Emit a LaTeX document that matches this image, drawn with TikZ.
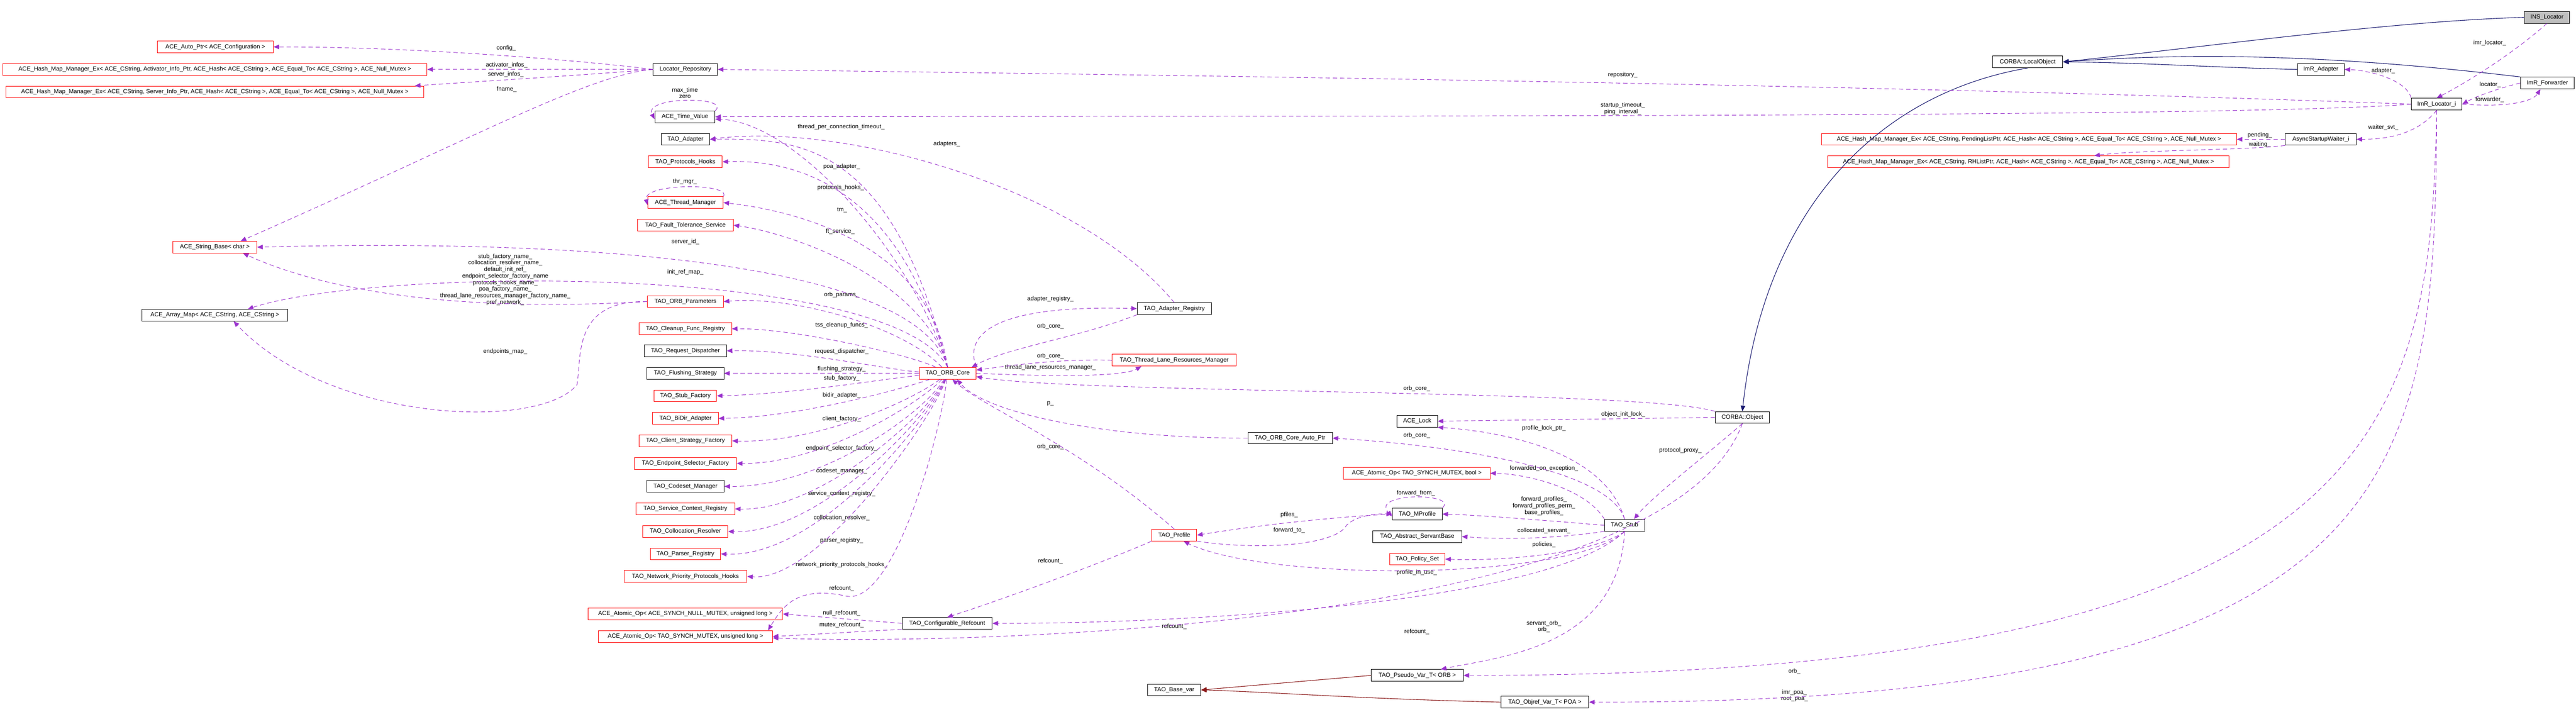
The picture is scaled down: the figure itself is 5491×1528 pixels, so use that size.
\documentclass[tikz,border=0pt]{standalone}
\usepackage{fontspec}
\setmainfont{Liberation Sans}
\usetikzlibrary{arrows.meta}
\definecolor{dep}{HTML}{9A32CD}
\definecolor{inh}{HTML}{191970}
\definecolor{tinh}{HTML}{8B1A1A}
\tikzset{
  bb/.style={draw=black, rectangle, minimum height=0.25cm, inner sep=0pt, font=\fontsize{3.6}{4.3}\selectfont, line width=0.3pt},
  rb/.style={bb, draw=red},
  gb/.style={bb, fill=black!25},
  lbl/.style={font=\fontsize{3.6}{3.97}\selectfont, inner sep=0pt, align=center},
  dp/.style={draw=dep, line width=0.3pt, dash pattern=on 2.6pt off 1.8pt, -{Triangle[length=3.4pt,width=2.8pt,fill=dep]}},
  ih/.style={draw=inh, line width=0.35pt, -{Triangle[length=3.4pt,width=2.8pt,fill=inh]}},
  th/.style={draw=tinh, line width=0.35pt, -{Triangle[length=3.4pt,width=2.8pt,fill=tinh]}},
}
\begin{document}
\begin{tikzpicture}[x=0.01cm,y=-0.01cm]
\useasboundingbox (0,0) rectangle (5491,1528);
% nodes
\node[rb, minimum width=2.47cm] (autoptr) at (459,100) {ACE\_Auto\_Ptr< ACE\_Configuration >};
\node[rb, minimum width=9.04cm] (hashact) at (458,148) {ACE\_Hash\_Map\_Manager\_Ex< ACE\_CString, Activator\_Info\_Ptr, ACE\_Hash< ACE\_CString >, ACE\_Equal\_To< ACE\_CString >, ACE\_Null\_Mutex >};
\node[rb, minimum width=8.91cm] (hashsrv) at (458,196) {ACE\_Hash\_Map\_Manager\_Ex< ACE\_CString, Server\_Info\_Ptr, ACE\_Hash< ACE\_CString >, ACE\_Equal\_To< ACE\_CString >, ACE\_Null\_Mutex >};
\node[rb, minimum width=1.79cm] (strbase) at (458,527) {ACE\_String\_Base< char >};
\node[bb, minimum width=3.11cm] (amap) at (458,672) {ACE\_Array\_Map< ACE\_CString, ACE\_CString >};
\node[bb, minimum width=1.37cm] (lr) at (1461,148) {Locator\_Repository};
\node[bb, minimum width=1.28cm] (tv) at (1460,249) {ACE\_Time\_Value};
\node[bb, minimum width=1.03cm] (tad) at (1461,297) {TAO\_Adapter};
\node[rb, minimum width=1.57cm] (ph) at (1461,345) {TAO\_Protocols\_Hooks};
\node[rb, minimum width=1.61cm] (thm) at (1461,432) {ACE\_Thread\_Manager};
\node[rb, minimum width=2.04cm] (ft) at (1461,480) {TAO\_Fault\_Tolerance\_Service};
\node[rb, minimum width=1.62cm] (op) at (1461,643) {TAO\_ORB\_Parameters};
\node[rb, minimum width=1.97cm] (cfr) at (1461,701) {TAO\_Cleanup\_Func\_Registry};
\node[bb, minimum width=1.75cm] (rd) at (1461,748) {TAO\_Request\_Dispatcher};
\node[bb, minimum width=1.64cm] (fs) at (1461,796) {TAO\_Flushing\_Strategy};
\node[rb, minimum width=1.33cm] (sf) at (1461,844) {TAO\_Stub\_Factory};
\node[rb, minimum width=1.40cm] (bd) at (1461,892) {TAO\_BiDir\_Adapter};
\node[rb, minimum width=1.98cm] (csf) at (1461,940) {TAO\_Client\_Strategy\_Factory};
\node[rb, minimum width=2.18cm] (esf) at (1461,988) {TAO\_Endpoint\_Selector\_Factory};
\node[bb, minimum width=1.65cm] (cm) at (1461,1037) {TAO\_Codeset\_Manager};
\node[rb, minimum width=2.10cm] (scr) at (1461,1085) {TAO\_Service\_Context\_Registry};
\node[rb, minimum width=1.81cm] (cr) at (1461,1133) {TAO\_Collocation\_Resolver};
\node[rb, minimum width=1.50cm] (pr) at (1461,1181) {TAO\_Parser\_Registry};
\node[rb, minimum width=2.62cm] (npph) at (1461,1229) {TAO\_Network\_Priority\_Protocols\_Hooks};
\node[rb, minimum width=4.14cm] (aon) at (1461,1309) {ACE\_Atomic\_Op< ACE\_SYNCH\_NULL\_MUTEX, unsigned long >};
\node[rb, minimum width=3.71cm] (aom) at (1461,1357) {ACE\_Atomic\_Op< TAO\_SYNCH\_MUTEX, unsigned long >};
\node[rb, minimum width=1.21cm] (orb) at (2020,796) {TAO\_ORB\_Core};
\node[bb, minimum width=1.92cm] (cref) at (2019,1329) {TAO\_Configurable\_Refcount};
\node[bb, minimum width=1.58cm] (ar) at (2503,658) {TAO\_Adapter\_Registry};
\node[rb, minimum width=2.64cm] (tlrm) at (2503,768) {TAO\_Thread\_Lane\_Resources\_Manager};
\node[rb, minimum width=0.96cm] (prof) at (2503,1141) {TAO\_Profile};
\node[bb, minimum width=1.13cm] (bvar) at (2503,1471) {TAO\_Base\_var};
\node[bb, minimum width=1.80cm] (oap) at (2750,934) {TAO\_ORB\_Core\_Auto\_Ptr};
\node[bb, minimum width=0.86cm] (lock) at (3021,898) {ACE\_Lock};
\node[rb, minimum width=3.12cm] (aob) at (3020,1009) {ACE\_Atomic\_Op< TAO\_SYNCH\_MUTEX, bool >};
\node[bb, minimum width=1.06cm] (mp) at (3021,1096) {TAO\_MProfile};
\node[bb, minimum width=1.89cm] (asb) at (3021,1144) {TAO\_Abstract\_ServantBase};
\node[rb, minimum width=1.18cm] (ps) at (3021,1192) {TAO\_Policy\_Set};
\node[bb, minimum width=1.96cm] (pv) at (3021,1440) {TAO\_Pseudo\_Var\_T< ORB >};
\node[bb, minimum width=1.87cm] (ov) at (3293,1497) {TAO\_Objref\_Var\_T< POA >};
\node[bb, minimum width=0.85cm] (stub) at (3463,1120) {TAO\_Stub};
\node[bb, minimum width=1.16cm] (obj) at (3714,890) {CORBA::Object};
\node[bb, minimum width=1.50cm] (lo) at (4322,132) {CORBA::LocalObject};
\node[rb, minimum width=8.84cm] (hpend) at (4325,297) {ACE\_Hash\_Map\_Manager\_Ex< ACE\_CString, PendingListPtr, ACE\_Hash< ACE\_CString >, ACE\_Equal\_To< ACE\_CString >, ACE\_Null\_Mutex >};
\node[rb, minimum width=8.55cm] (hrh) at (4324,345) {ACE\_Hash\_Map\_Manager\_Ex< ACE\_CString, RHListPtr, ACE\_Hash< ACE\_CString >, ACE\_Equal\_To< ACE\_CString >, ACE\_Null\_Mutex >};
\node[bb, minimum width=1.00cm] (imad) at (4947,148) {ImR\_Adapter};
\node[bb, minimum width=1.51cm] (asw) at (4947,297) {AsyncStartupWaiter\_i};
\node[bb, minimum width=1.08cm] (imr) at (5194,222) {ImR\_Locator\_i};
\node[bb, minimum width=1.15cm] (fw) at (5430,177) {ImR\_Forwarder};
\node[gb, minimum width=0.96cm] (ins) at (5429,37) {INS\_Locator};

% labels
\node[lbl] (l1) at (1079,103) {config\_};
\node[lbl] (l2) at (1080,139) {activator\_infos\_};
\node[lbl] (l3) at (1078,159) {server\_infos\_};
\node[lbl] (l4) at (1080,191) {fname\_};
\node[lbl] (l5) at (1460,198) {max\_time\\zero};
\node[lbl] (l6) at (1793,271) {thread\_per\_connection\_timeout\_};
\node[lbl] (l7) at (2018,307) {adapters\_};
\node[lbl] (l8) at (1794,355) {poa\_adapter\_};
\node[lbl] (l9) at (1792,400) {protocols\_hooks\_};
\node[lbl] (l10) at (1460,387) {thr\_mgr\_};
\node[lbl] (l11) at (1795,448) {tm\_};
\node[lbl] (l12) at (1791,494) {ft\_service\_};
\node[lbl] (l13) at (1461,516) {server\_id\_};
\node[lbl] (l14) at (1461,580) {init\_ref\_map\_};
\node[lbl] (l15) at (1077,596) {stub\_factory\_name\_\\collocation\_resolver\_name\_\\default\_init\_ref\_\\endpoint\_selector\_factory\_name\\protocols\_hooks\_name\_\\poa\_factory\_name\_\\thread\_lane\_resources\_manager\_factory\_name\_\\pref\_network\_};
\node[lbl] (l16) at (1077,749) {endpoints\_map\_};
\node[lbl] (l17) at (1794,629) {orb\_params\_};
\node[lbl] (l18) at (1794,693) {tss\_cleanup\_funcs\_};
\node[lbl] (l19) at (1794,749) {request\_dispatcher\_};
\node[lbl] (l20) at (1794,787) {flushing\_strategy\_};
\node[lbl] (l21) at (1794,807) {stub\_factory\_};
\node[lbl] (l22) at (1794,843) {bidir\_adapter\_};
\node[lbl] (l23) at (1794,893) {client\_factory\_};
\node[lbl] (l24) at (1794,956) {endpoint\_selector\_factory\_};
\node[lbl] (l25) at (1794,1004) {codeset\_manager\_};
\node[lbl] (l26) at (1794,1053) {service\_context\_registry\_};
\node[lbl] (l27) at (1794,1104) {collocation\_resolver\_};
\node[lbl] (l28) at (1794,1153) {parser\_registry\_};
\node[lbl] (l29) at (1794,1204) {network\_priority\_protocols\_hooks\_};
\node[lbl] (l30) at (1794,1255) {refcount\_};
\node[lbl] (l31) at (1794,1307) {null\_refcount\_};
\node[lbl] (l32) at (1794,1333) {mutex\_refcount\_};
\node[lbl] (l33) at (2239,637) {adapter\_registry\_};
\node[lbl] (l34) at (2239,696) {orb\_core\_};
\node[lbl] (l35) at (2239,759) {orb\_core\_};
\node[lbl] (l36) at (2239,784) {thread\_lane\_resources\_manager\_};
\node[lbl] (l37) at (2239,860) {p\_};
\node[lbl] (l38) at (2239,953) {orb\_core\_};
\node[lbl] (l39) at (2239,1197) {refcount\_};
\node[lbl] (l40) at (2503,1336) {refcount\_};
\node[lbl] (l41) at (3020,829) {orb\_core\_};
\node[lbl] (l42) at (3460,883) {object\_init\_lock\_};
\node[lbl] (l43) at (3291,913) {profile\_lock\_ptr\_};
\node[lbl] (l44) at (3020,928) {orb\_core\_};
\node[lbl] (l45) at (3582,960) {protocol\_proxy\_};
\node[lbl] (l46) at (3291,999) {forwarded\_on\_exception\_};
\node[lbl] (l47) at (3291,1079) {forward\_profiles\_\\forward\_profiles\_perm\_\\base\_profiles\_};
\node[lbl] (l48) at (3018,1051) {forward\_from\_};
\node[lbl] (l49) at (2748,1098) {pfiles\_};
\node[lbl] (l50) at (2748,1131) {forward\_to\_};
\node[lbl] (l51) at (3291,1132) {collocated\_servant\_};
\node[lbl] (l52) at (3291,1161) {policies\_};
\node[lbl] (l53) at (3020,1221) {profile\_in\_use\_};
\node[lbl] (l54) at (3020,1347) {refcount\_};
\node[lbl] (l55) at (3291,1336) {servant\_orb\_\\orb\_};
\node[lbl] (l56) at (3825,1431) {orb\_};
\node[lbl] (l57) at (3825,1483) {imr\_poa\_\\root\_poa\_};
\node[lbl] (l58) at (3459,160) {repository\_};
\node[lbl] (l59) at (3459,232) {startup\_timeout\_\\ping\_interval\_};
\node[lbl] (l60) at (5307,92) {imr\_locator\_};
\node[lbl] (l61) at (5080,151) {adapter\_};
\node[lbl] (l62) at (5308,181) {locator\_};
\node[lbl] (l63) at (5307,212) {forwarder\_};
\node[lbl] (l64) at (5080,272) {waiter\_svt\_};
\node[lbl] (l65) at (4817,288) {pending\_};
\node[lbl] (l66) at (4817,308) {waiting\_};

% inheritance
\draw[ih] (ins.west) .. controls (5100,45) and (4700,100) .. (lo.east);
\draw[ih] (imad.west) .. controls (4750,145) and (4550,133) .. (lo.east);
\draw[ih] (fw.north west) .. controls (5000,120) and (4700,110) .. (lo.east);
\draw[ih] (lo.south) .. controls (4000,200) and (3760,450) .. (obj.north);
\draw[th] (pv.west) -- (bvar.east);
\draw[th] (ov.west) .. controls (2900,1490) and (2700,1475) .. (bvar.east);

% dependencies
\draw[dp] (lr.west) .. controls (1250,130) and (900,100) .. (autoptr.east);
\draw[dp] (lr.west) -- (hashact.east);
\draw[dp] (lr.west) .. controls (1250,160) and (1000,175) .. ([xshift=-0.2cm]hashsrv.north east);
\draw[dp] (lr.west) .. controls (1250,160) and (1000,300) .. ([xshift=0.55cm]strbase.north);
\draw[dp] (imr.west) .. controls (4000,180) and (2500,160) .. (lr.east);
\draw[dp] (imr.west) .. controls (4800,250) and (3000,247) .. (tv.east);
\draw[dp] (tv.north east) .. controls (1560,205) and (1370,205) .. ([yshift=-0.05cm]tv.west);
\draw[dp] (orb.north) .. controls (1950,550) and (1700,260) .. ([yshift=-0.05cm]tv.east);
\draw[dp] (ar.north) .. controls (2300,400) and (1800,260) .. (tad.east);
\draw[dp] (orb.north) .. controls (1900,300) and (1700,295) .. (tad.east);
\draw[dp] (orb.north) .. controls (1920,400) and (1700,340) .. (ph.east);
\draw[dp] (thm.north east) .. controls (1560,390) and (1370,390) .. ([yshift=-0.05cm]thm.west);
\draw[dp] (orb.north) .. controls (1980,520) and (1700,450) .. (thm.east);
\draw[dp] (orb.north) .. controls (1970,600) and (1700,500) .. (ft.east);
\draw[dp] (orb.north) .. controls (1950,550) and (1200,510) .. (strbase.east);
\draw[dp] (orb.north) .. controls (1900,560) and (800,570) .. ([xshift=0.7cm]amap.north);
\draw[dp] (op.west) .. controls (900,670) and (650,600) .. ([xshift=0.6cm]strbase.south);
\draw[dp] (op.west) .. controls (1220,640) and (1240,760) .. (1230,820) .. controls (1150,920) and (700,900) .. ([xshift=0.4cm]amap.south);
\draw[dp] (orb) .. controls (1930,700) and (1700,630) .. (op.east);
\draw[dp] (orb) .. controls (1950,760) and (1700,700) .. (cfr.east);
\draw[dp] (orb) .. controls (1900,790) and (1700,745) .. (rd.east);
\draw[dp] (orb.west) -- (fs.east);
\draw[dp] (orb) .. controls (1900,805) and (1700,840) .. (sf.east);
\draw[dp] (orb) .. controls (1920,830) and (1700,890) .. (bd.east);
\draw[dp] (orb) .. controls (1950,850) and (1750,945) .. (csf.east);
\draw[dp] (orb) .. controls (1960,860) and (1750,990) .. (esf.east);
\draw[dp] (orb) .. controls (1970,880) and (1750,1040) .. (cm.east);
\draw[dp] (orb) .. controls (1980,880) and (1750,1090) .. (scr.east);
\draw[dp] (orb) .. controls (1985,880) and (1750,1140) .. (cr.east);
\draw[dp] (orb) .. controls (1990,880) and (1750,1190) .. (pr.east);
\draw[dp] (orb) .. controls (1995,880) and (1750,1240) .. (npph.east);
\draw[dp] (orb) .. controls (2000,950) and (1900,1300) .. (1800,1270) .. controls (1700,1250) and (1670,1290) .. ([xshift=-0.1cm]aom.north east);
\draw[dp] (orb.north east) .. controls (2050,700) and (2150,650) .. (ar.west);
\draw[dp] (ar.south west) .. controls (2300,720) and (2150,740) .. ([xshift=-0.1cm]orb.north east);
\draw[dp] (tlrm.west) .. controls (2250,765) and (2150,780) .. ([yshift=0.07cm]orb.east);
\draw[dp] (orb.east) .. controls (2300,805) and (2400,800) .. ([xshift=-0.7cm]tlrm.south);
\draw[dp] (oap.west) .. controls (2350,935) and (2100,880) .. ([xshift=0.2cm]orb.south);
\draw[dp] (obj.north west) .. controls (3500,830) and (2300,840) .. ([yshift=-0.07cm]orb.east);
\draw[dp] (prof.north) .. controls (2300,950) and (2100,870) .. ([xshift=0.1cm]orb.south);
\draw[dp] (cref.west) -- (aon.east);
\draw[dp] (cref.south west) .. controls (1850,1345) and (1750,1352) .. (aom.east);
\draw[dp] (prof.south west) .. controls (2300,1220) and (2100,1290) .. (cref.north);
\draw[dp] (stub.south) .. controls (3300,1290) and (2500,1330) .. (cref.east);
\draw[dp] (obj.south) .. controls (3550,1350) and (2000,1375) .. ([yshift=-0.03cm]aom.east);
\draw[dp] (obj.west) -- (lock.east);
\draw[dp] (stub.north) .. controls (3420,960) and (3200,920) .. (lock.south east);
\draw[dp] (stub.north) .. controls (3430,1000) and (3100,950) .. (oap.east);
\draw[dp] (obj.south) .. controls (3650,960) and (3520,1060) .. ([xshift=0.2cm]stub.north);
\draw[dp] (stub.north west) .. controls (3380,1040) and (3250,1010) .. (aob.east);
\draw[dp] (stub.west) .. controls (3300,1110) and (3150,1098) .. (mp.east);
\draw[dp] (mp.north east) .. controls (3110,1050) and (2920,1050) .. ([yshift=-0.05cm]mp.west);
\draw[dp] (mp.west) .. controls (2800,1105) and (2650,1125) .. (prof.east);
\draw[dp] (prof.south east) .. controls (2700,1175) and (2850,1160) .. (2870,1120) .. controls (2890,1100) and (2930,1095) .. (mp.west);
\draw[dp] (stub.south west) .. controls (3300,1150) and (3200,1150) .. (asb.east);
\draw[dp] (stub.south) .. controls (3400,1180) and (3200,1197) .. (ps.east);
\draw[dp] (stub.south) .. controls (3350,1240) and (2700,1240) .. ([xshift=0.2cm]prof.south);
\draw[dp] (stub.south) .. controls (3450,1380) and (3200,1400) .. ([xshift=0.5cm]pv.north);
\draw[dp] (imr.south) .. controls (5180,900) and (5100,1440) .. (pv.east);
\draw[dp] (imr.south) .. controls (5190,1000) and (5150,1500) .. (ov.east);
\draw[dp] (ins.south) .. controls (5350,120) and (5250,180) .. (imr.north);
\draw[dp] (imr.north west) .. controls (5130,170) and (5050,150) .. (imad.east);
\draw[dp] (fw.west) .. controls (5320,190) and (5280,205) .. (imr.east);
\draw[dp] (imr.east) .. controls (5350,230) and (5400,215) .. ([xshift=-0.15cm]fw.south);
\draw[dp] (imr.south) .. controls (5150,290) and (5080,297) .. (asw.east);
\draw[dp] (asw.west) -- (hpend.east);
\draw[dp] (asw.south west) .. controls (4800,320) and (4550,320) .. ([xshift=1.4cm]hrh.north);
\end{tikzpicture}
\end{document}
